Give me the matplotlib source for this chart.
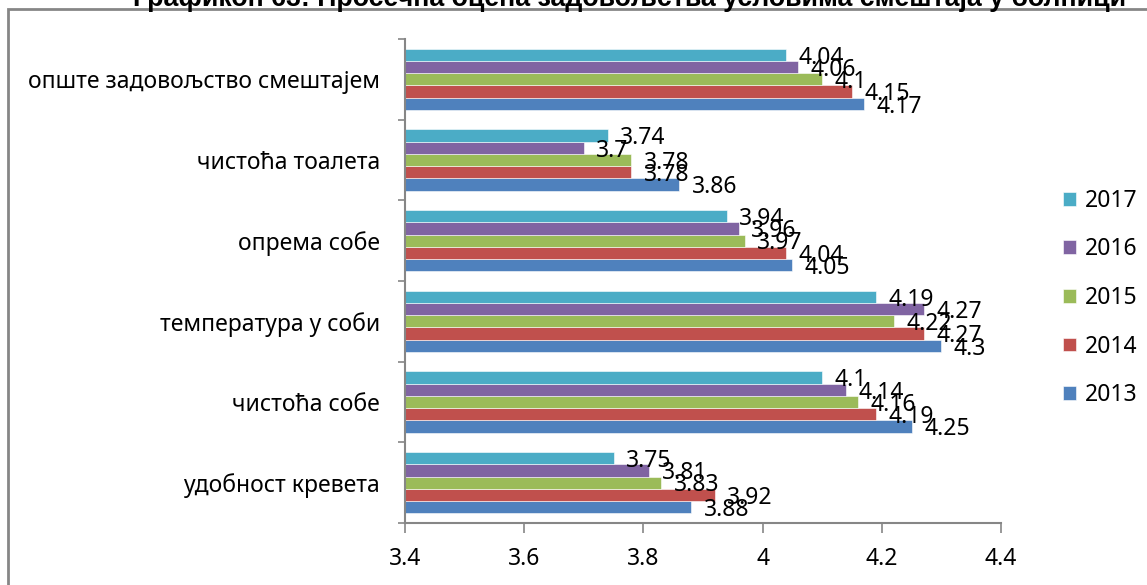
import matplotlib
matplotlib.use("Agg")
import matplotlib.pyplot as plt
from matplotlib.patches import Rectangle
import numpy as np

plt.rcParams['font.family'] = ['Noto Sans', 'DejaVu Sans']

# категорије (од дна ка врху)
categories = ['удобност кревета', 'чистоћа собе', 'температура у соби',
              'опрема собе', 'чистоћа тоалета', 'опште задовољство смештајем']
years = ['2013', '2014', '2015', '2016', '2017']
colors = ['#4f81bd', '#c0504d', '#9bbb59', '#8064a2', '#4bacc6']

v2013 = [3.88, 4.25, 4.30, 4.05, 3.86, 4.17]
v2014 = [3.92, 4.19, 4.27, 4.04, 3.78, 4.15]
v2015 = [3.83, 4.16, 4.22, 3.97, 3.78, 4.10]
v2016 = [3.81, 4.14, 4.27, 3.96, 3.70, 4.06]
v2017 = [3.75, 4.10, 4.19, 3.94, 3.74, 4.04]
series = [v2013, v2014, v2015, v2016, v2017]

title = 'Графикон 63: Просечна оцена задовољства условима смештаја у болници'

fs = 16.5

fig = plt.figure(figsize=(11.47, 5.85), dpi=100)
ax = fig.add_axes([405 / 1147, 62 / 585, 596 / 1147, 484 / 585])

y = np.arange(len(categories))
h = 0.152
for i, (vals, yr, c) in enumerate(zip(series, years, colors)):
    pos = y + (i - 2) * h
    ax.barh(pos, np.array(vals) - 3.4, left=3.4, height=h, color=c,
            edgecolor='white', linewidth=0.4, label=yr)
    for p, v in zip(pos, vals):
        ax.annotate(f'{v:g}', (v, p), xytext=(9, -2), textcoords='offset points',
                    ha='left', va='center', fontsize=fs, color='black')

ax.set_xlim(3.4, 4.4)
ax.set_ylim(-0.5, len(categories) - 0.5)
ax.set_xticks([3.4, 3.6, 3.8, 4.0, 4.2, 4.4])
ax.set_xticklabels(['3.4', '3.6', '3.8', '4', '4.2', '4.4'], fontsize=fs)
ax.set_yticks(y)
ax.set_yticklabels(categories, fontsize=fs)
ax.set_yticks(np.arange(-0.5, len(categories)), minor=True)
ax.tick_params(axis='y', which='major', length=0, pad=18)
ax.tick_params(axis='y', which='minor', length=5, color='#868686', width=1.2)
ax.tick_params(axis='x', length=7, color='#868686', width=1.2, pad=10)
for s in ['top', 'right']:
    ax.spines[s].set_visible(False)
for s in ['left', 'bottom']:
    ax.spines[s].set_color('#868686')
    ax.spines[s].set_linewidth(1.5)

handles, labels = ax.get_legend_handles_labels()
leg = fig.legend(handles[::-1], labels[::-1], loc='center left',
                 bbox_to_anchor=(1054 / 1147, 0.4906), frameon=False,
                 fontsize=fs, handlelength=0.55, handleheight=0.55,
                 handletextpad=0.4, labelspacing=1.07, borderaxespad=0)

# оквир графикона
fig.patches.append(Rectangle((8 / 1147, -0.1), 1.2, (585 - 9) / 585 + 0.1,
                             transform=fig.transFigure, fill=False,
                             edgecolor='#868686', linewidth=2))

fig.text(630 / 1147, (585 - 6) / 585, title, ha='center', va='baseline',
         fontsize=19.3, fontweight='bold', family=['Liberation Sans', 'DejaVu Sans'])

fig.savefig('out.png', dpi=100)
